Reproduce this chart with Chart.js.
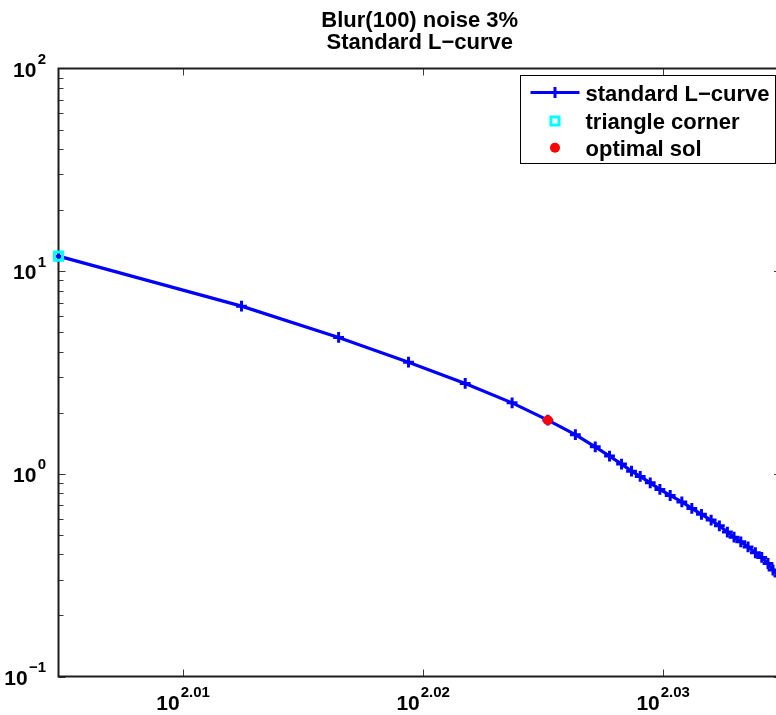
<!DOCTYPE html>
<html>
<head>
<meta charset="utf-8">
<script src="https://cdn.jsdelivr.net/npm/chart.js@4/dist/chart.umd.min.js"></script>
<style>
  html, body { margin: 0; padding: 0; background: #ffffff; overflow: hidden; }
  #wrap { width: 790px; height: 715px; }
</style>
</head>
<body>
<div id="wrap"><canvas id="lcurve" width="790" height="715"></canvas></div>
<script>
// Title and legend texts
const titleLines = ['Blur(100) noise 3%', 'Standard L\u2212curve'];
const seriesLabels = ['standard L\u2212curve', 'triangle corner', 'optimal sol'];

// L-curve samples: residual norm (x) and solution norm (y)
const residualNorm = [
  101.113, 102.904, 103.867, 104.566, 105.136, 105.610, 105.973, 106.253,
  106.456, 106.602, 106.725, 106.827, 106.916, 107.019, 107.118, 107.224,
  107.344, 107.447, 107.546, 107.646, 107.731, 107.814, 107.883, 107.953,
  108.028, 108.104, 108.170, 108.235, 108.287, 108.349
];
const solutionNorm = [
  11.86, 6.72, 4.71, 3.556, 2.793, 2.240, 1.840, 1.561,
  1.359, 1.223, 1.117, 1.031, 0.971, 0.903, 0.838, 0.782,
  0.727, 0.675, 0.631, 0.591, 0.554, 0.516, 0.487, 0.462,
  0.436, 0.408, 0.387, 0.361, 0.335, 0.313
];

// Highlighted samples on the curve
const cornerIndex = 0;
const optimalIndex = 6;

// Axis limits and decade tick exponents
const xLimits = [101.113, 108.37];
const yLimits = [0.1, 100];
const xTickExponents = [2.01, 2.02, 2.03];
const yTickExponents = [-1, 0, 1, 2];

const curvePoints = residualNorm.map((x, i) => ({ x: x, y: solutionNorm[i] }));

const FONT_FAMILY = '"Liberation Sans", Arial, Helvetica, sans-serif';
const baseFont = 'bold 21px ' + FONT_FAMILY;
const supFont = 'bold 15px ' + FONT_FAMILY;
const textFont = 'bold 22px ' + FONT_FAMILY;
const frameColor = '#1c1c1c';
const tickColor = '#3a3a3a';

function expLabel(e) {
  const s = String(e);
  return s.charAt(0) === '-' ? '\u2212' + s.slice(1) : s;
}

// Axes box, inward ticks and power-of-ten labels
const axesFrame = {
  id: 'axesFrame',
  beforeDatasetsDraw(chart) {
    const ctx = chart.ctx;
    const a = chart.chartArea;
    const xs = chart.scales.x, ys = chart.scales.y;
    ctx.save();

    // ticks
    ctx.strokeStyle = tickColor;
    ctx.lineWidth = 1;
    ctx.beginPath();
    xTickExponents.forEach(e => {
      const px = Math.round(xs.getPixelForValue(Math.pow(10, e))) + 0.5;
      ctx.moveTo(px, a.bottom); ctx.lineTo(px, a.bottom - 7);
      ctx.moveTo(px, a.top); ctx.lineTo(px, a.top + 7);
    });
    for (let d = yTickExponents[0]; d < yTickExponents[yTickExponents.length - 1]; d++) {
      for (let m = 1; m <= 9; m++) {
        const py = Math.round(ys.getPixelForValue(m * Math.pow(10, d))) + 0.5;
        const len = m === 1 ? 7 : 5;
        ctx.moveTo(a.left, py); ctx.lineTo(a.left + len, py);
        ctx.moveTo(a.right, py); ctx.lineTo(a.right - len, py);
      }
    }
    ctx.stroke();

    // frame
    ctx.strokeStyle = frameColor;
    ctx.lineWidth = 2;
    ctx.strokeRect(a.left, a.top, a.right - a.left, a.bottom - a.top);

    // x labels
    ctx.fillStyle = '#000000';
    ctx.textBaseline = 'alphabetic';
    ctx.textAlign = 'left';
    xTickExponents.forEach(e => {
      const px = xs.getPixelForValue(Math.pow(10, e));
      ctx.font = baseFont;
      const wb = ctx.measureText('10').width;
      ctx.font = supFont;
      const sup = expLabel(e.toFixed(2));
      const ws = ctx.measureText(sup).width;
      const left = px - (wb + 1 + ws) / 2;
      ctx.font = baseFont;
      ctx.fillText('10', left, a.bottom + 33);
      ctx.font = supFont;
      ctx.fillText(sup, left + wb + 1, a.bottom + 20.5);
    });

    // y labels
    yTickExponents.forEach(e => {
      const py = ys.getPixelForValue(Math.pow(10, e));
      const sup = expLabel(e);
      ctx.font = supFont;
      const shift = e < 0 ? ctx.measureText('\u2212').width : 0;
      ctx.font = baseFont;
      const wb = ctx.measureText('10').width;
      const left = 13 - shift;
      ctx.fillText('10', left, py + 8);
      ctx.font = supFont;
      ctx.fillText(sup, left + wb + 1.5, py - 4.5);
    });

    // title
    ctx.font = textFont;
    ctx.textAlign = 'center';
    const cx = (a.left + a.right) / 2;
    ctx.fillText(titleLines[0], cx, 26.5);
    ctx.fillText(titleLines[1], cx, 49);
    ctx.restore();
  }
};

// Boxed legend in the upper right of the axes
const boxedLegend = {
  id: 'boxedLegend',
  afterDatasetsDraw(chart) {
    const ctx = chart.ctx;
    const a = chart.chartArea;
    const ds = chart.data.datasets;
    const boxRight = 775.5, boxTop = a.top + 7;
    const boxLeft = boxRight - 255, boxBottom = boxTop + 88;
    ctx.save();
    ctx.fillStyle = '#ffffff';
    ctx.fillRect(boxLeft, boxTop, boxRight - boxLeft, boxBottom - boxTop);
    ctx.strokeStyle = '#000000';
    ctx.lineWidth = 1;
    ctx.strokeRect(boxLeft, boxTop, boxRight - boxLeft, boxBottom - boxTop);

    const rows = [boxTop + 17, boxTop + 45.5, boxTop + 72.3];
    const mx = boxLeft + 34.5;

    // row 1: line with cross marker
    ctx.strokeStyle = ds[0].borderColor;
    ctx.lineWidth = ds[0].borderWidth;
    ctx.beginPath();
    ctx.moveTo(boxLeft + 10, rows[0]); ctx.lineTo(boxLeft + 59, rows[0]);
    ctx.stroke();
    ctx.lineWidth = ds[0].pointBorderWidth;
    const r0 = ds[0].pointRadius;
    ctx.beginPath();
    ctx.moveTo(mx - r0, rows[0]); ctx.lineTo(mx + r0, rows[0]);
    ctx.moveTo(mx, rows[0] - r0); ctx.lineTo(mx, rows[0] + r0);
    ctx.stroke();

    // row 2: hollow square
    ctx.strokeStyle = ds[1].pointBorderColor;
    ctx.lineWidth = ds[1].pointBorderWidth;
    const s1 = ds[1].pointRadius * Math.SQRT1_2;
    ctx.strokeRect(mx - s1, rows[1] - s1, 2 * s1, 2 * s1);

    // row 3: filled dot
    ctx.fillStyle = ds[2].pointBackgroundColor;
    ctx.beginPath();
    ctx.arc(mx, rows[2], ds[2].pointRadius, 0, Math.PI * 2);
    ctx.fill();

    ctx.fillStyle = '#000000';
    ctx.font = textFont;
    ctx.textAlign = 'left';
    ctx.textBaseline = 'alphabetic';
    ds.forEach((d, i) => ctx.fillText(d.label, boxLeft + 65, rows[i] + 8));
    ctx.restore();
  }
};

new Chart(document.getElementById('lcurve'), {
  type: 'scatter',
  data: {
    datasets: [
      {
        label: seriesLabels[0],
        data: curvePoints,
        showLine: true,
        borderColor: '#0000ff',
        borderWidth: 3.2,
        tension: 0,
        fill: false,
        pointStyle: 'cross',
        pointRadius: 5.4,
        pointBorderWidth: 3,
        pointBorderColor: '#0000ff',
        pointBackgroundColor: '#0000ff',
        clip: false,
        order: 3
      },
      {
        label: seriesLabels[1],
        data: [curvePoints[cornerIndex]],
        showLine: false,
        pointStyle: 'rect',
        pointRadius: 5.7,
        pointBorderWidth: 3,
        pointBorderColor: '#00ffff',
        pointBackgroundColor: 'rgba(0,0,0,0)',
        clip: false,
        order: 2
      },
      {
        label: seriesLabels[2],
        data: [curvePoints[optimalIndex]],
        showLine: false,
        pointStyle: 'circle',
        pointRadius: 5,
        pointBorderWidth: 0,
        pointBorderColor: '#ff0000',
        pointBackgroundColor: '#ff0000',
        clip: false,
        order: 1
      }
    ]
  },
  options: {
    responsive: false,
    animation: false,
    devicePixelRatio: 1,
    events: [],
    layout: { padding: { left: 58.5, top: 68.5, right: 9, bottom: 38.5 } },
    scales: {
      x: { type: 'logarithmic', min: xLimits[0], max: xLimits[1], bounds: 'data', display: false },
      y: { type: 'logarithmic', min: yLimits[0], max: yLimits[1], bounds: 'data', display: false }
    },
    plugins: {
      legend: { display: false },
      title: { display: false },
      tooltip: { enabled: false }
    }
  },
  plugins: [axesFrame, boxedLegend]
});
</script>
</body>
</html>
